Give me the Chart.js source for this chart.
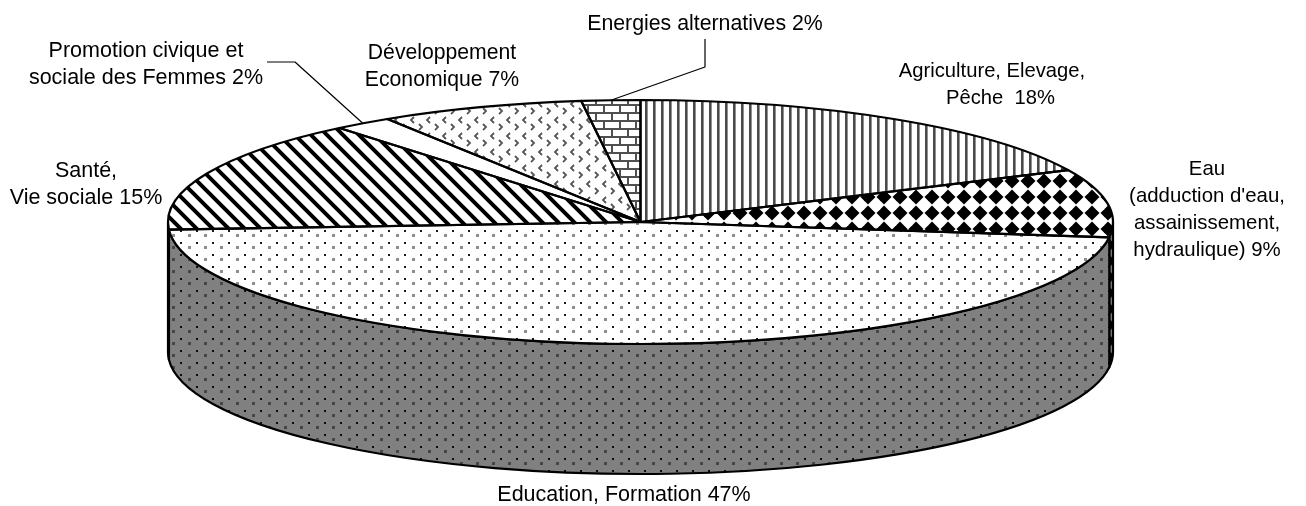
<!DOCTYPE html>
<html>
<head>
<meta charset="utf-8">
<style>
  html, body { margin: 0; padding: 0; background: #fff; }
  canvas { display: block; }
</style>
<script src="https://cdn.jsdelivr.net/npm/chart.js@4"></script>
</head>
<body>
<canvas id="chart" width="1306" height="506"></canvas>
<script>
// Data, clockwise from 12 o'clock
const categories = ['Agriculture, Elevage, Pêche', 'Eau', 'Education, Formation', 'Santé, Vie sociale',
  'Promotion civique et sociale des Femmes', 'Développement Economique', 'Energies alternatives'];
const values = [18, 9, 47, 15, 2, 7, 2];
const labelLines = [
  ['Agriculture, Elevage,', '   Pêche  18%'],
  ['Eau', '(adduction d\'eau,', 'assainissement,', 'hydraulique) 9%'],
  ['Education, Formation 47%'],
  ['Santé,', 'Vie sociale 15%'],
  ['Promotion civique et', 'sociale des Femmes 2%'],
  ['Développement', 'Economique 7%'],
  ['Energies alternatives 2%']
];

// Layout, separate from the data
const labelCenterX = [992, 1207, 624, 86, 146, 442, 705];
const labelFirstY = [71, 169, 495, 171, 51, 53, 24];
const labelFontSize = [20.2, 20.4, 21.5, 21.5, 21.5, 21.2, 21.3];
const lineGap = 27;
const radiusX = 472.5;
const tilt = 122 / 472.5; // top ellipse height / width
const depth = 130;
const sideVisibleFrom = 0, sideVisibleTo = Math.PI;

function makeTile(w, h, bg, paint) {
  const c = document.createElement('canvas');
  c.width = w; c.height = h;
  const g = c.getContext('2d');
  g.fillStyle = bg;
  g.fillRect(0, 0, w, h);
  paint(g);
  return g.createPattern(c, 'repeat');
}

function stripes(bg) {
  return makeTile(8, 8, bg, g => {
    g.fillStyle = '#4a4a4a';
    g.fillRect(5, 0, 2.6, 8);
  });
}
function diamonds(bg) {
  return makeTile(16, 16, bg, g => {
    g.fillStyle = '#000';
    // centre sits at (4,5) in the tile, drawn wrapped round the edges
    [[4, 5], [20, 5], [4, 21], [20, 21]].forEach(([x, y]) => {
      g.beginPath();
      g.moveTo(x, y - 7.5); g.lineTo(x + 7.5, y); g.lineTo(x, y + 7.5); g.lineTo(x - 7.5, y);
      g.closePath();
      g.fill();
    });
  });
}
function dots(bg) {
  return makeTile(16, 12, bg, g => {
    g.fillStyle = 'rgba(0,0,0,0.9)';
    g.fillRect(4, 2, 2, 2);
    g.fillStyle = 'rgba(0,0,0,0.45)';
    g.fillRect(12, 6, 3, 3);
  });
}
function hatch(bg) {
  return makeTile(16, 16, bg, g => {
    g.strokeStyle = '#000';
    g.lineWidth = 4;
    g.beginPath();
    g.moveTo(-8, -8); g.lineTo(24, 24);
    g.moveTo(-8, 8); g.lineTo(8, 24);
    g.moveTo(8, -8); g.lineTo(24, 8);
    g.stroke();
  });
}
function chevrons(bg) {
  return makeTile(16, 16, bg, g => {
    g.strokeStyle = '#555';
    g.lineWidth = 1.8;
    g.beginPath();
    g.moveTo(3, 12); g.lineTo(6, 15); g.lineTo(3, 18);
    g.moveTo(3, -4); g.lineTo(6, -1); g.lineTo(3, 2);
    g.moveTo(14, 5); g.lineTo(11, 8); g.lineTo(14, 11);
    g.stroke();
  });
}
function bricks(bg) {
  return makeTile(16, 16, bg, g => {
    g.fillStyle = '#505050';
    g.fillRect(0, 0, 16, 2);
    g.fillRect(0, 8, 16, 2);
    g.fillRect(3, 0, 2, 8);
    g.fillRect(11, 8, 2, 8);
  });
}

const topPatterns = [stripes('#fff'), diamonds('#fff'), dots('#fff'), hatch('#fff'), '#fff', chevrons('#fff'), bricks('#fff')];
const sidePatterns = [stripes('#808080'), diamonds('#808080'), dots('#808080'), hatch('#808080'), '#808080', chevrons('#808080'), bricks('#808080')];

const tiltedPie = {
  id: 'tiltedPie',
  beforeDatasetsDraw(chart) {
    const ctx = chart.ctx;
    const arcs = chart.getDatasetMeta(0).data;
    const cx = arcs[0].x, cy = arcs[0].y;
    const rx = arcs[0].outerRadius, ry = rx * tilt;

    // side wall, only what faces the viewer
    ctx.save();
    ctx.lineWidth = 2.2;
    ctx.strokeStyle = '#000';
    ctx.lineJoin = 'round';
    arcs.forEach((arc, i) => {
      const a0 = Math.max(arc.startAngle, sideVisibleFrom);
      const a1 = Math.min(arc.endAngle, sideVisibleTo);
      if (a1 <= a0) return;
      ctx.beginPath();
      ctx.ellipse(cx, cy, rx, ry, 0, a0, a1);
      ctx.ellipse(cx, cy + depth, rx, ry, 0, a1, a0, true);
      ctx.closePath();
      ctx.fillStyle = sidePatterns[i];
      ctx.fill();
      ctx.stroke();
    });
    ctx.restore();

    // keep the patterns square although the arcs are squashed
    const undo = new DOMMatrix().translate(cx, cy).scale(1, 1 / tilt).translate(-cx, -cy);
    topPatterns.forEach(p => { if (typeof p !== 'string') p.setTransform(undo); });

    ctx.save();
    ctx.translate(cx, cy);
    ctx.scale(1, tilt);
    ctx.translate(-cx, -cy);
  },
  afterDatasetsDraw(chart) {
    const ctx = chart.ctx;
    ctx.restore();

    const arcs = chart.getDatasetMeta(0).data;
    const cx = arcs[0].x, cy = arcs[0].y;
    const rx = arcs[0].outerRadius, ry = rx * tilt;

    // slice outlines, drawn unsquashed so the pen stays even
    ctx.save();
    ctx.lineWidth = 2.2;
    ctx.strokeStyle = '#000';
    ctx.lineJoin = 'round';
    arcs.forEach(arc => {
      ctx.beginPath();
      ctx.moveTo(cx, cy);
      ctx.ellipse(cx, cy, rx, ry, 0, arc.startAngle, arc.endAngle);
      ctx.closePath();
      ctx.stroke();
    });

    // leader lines to the two thin slices
    const leader = (i, bendX, bendY, endX, endY) => {
      const mid = (arcs[i].startAngle + arcs[i].endAngle) / 2;
      ctx.beginPath();
      ctx.moveTo(cx + rx * Math.cos(mid), cy + ry * Math.sin(mid));
      ctx.lineTo(bendX, bendY);
      ctx.lineTo(endX, endY);
      ctx.stroke();
    };
    ctx.lineWidth = 1.2;
    leader(4, 295, 62, 267, 62);
    leader(6, 705, 67, 705, 39);

    // labels
    ctx.fillStyle = '#000';
    ctx.textAlign = 'center';
    ctx.textBaseline = 'middle';
    labelLines.forEach((lines, i) => {
      ctx.font = labelFontSize[i] + 'px "Liberation Sans", Arial, sans-serif';
      lines.forEach((line, j) => {
        ctx.fillText(line, labelCenterX[i], labelFirstY[i] + j * lineGap);
      });
    });
    ctx.restore();
  }
};

new Chart(document.getElementById('chart').getContext('2d'), {
  type: 'pie',
  data: {
    labels: categories,
    datasets: [{
      data: values,
      backgroundColor: topPatterns,
      borderWidth: 0,
      clip: false
    }]
  },
  options: {
    responsive: false,
    animation: false,
    events: [],
    radius: radiusX,
    layout: { padding: { left: 0, right: 25, top: 0, bottom: 62 } },
    plugins: {
      legend: { display: false },
      tooltip: { enabled: false }
    }
  },
  plugins: [tiltedPie]
});
</script>
</body>
</html>
